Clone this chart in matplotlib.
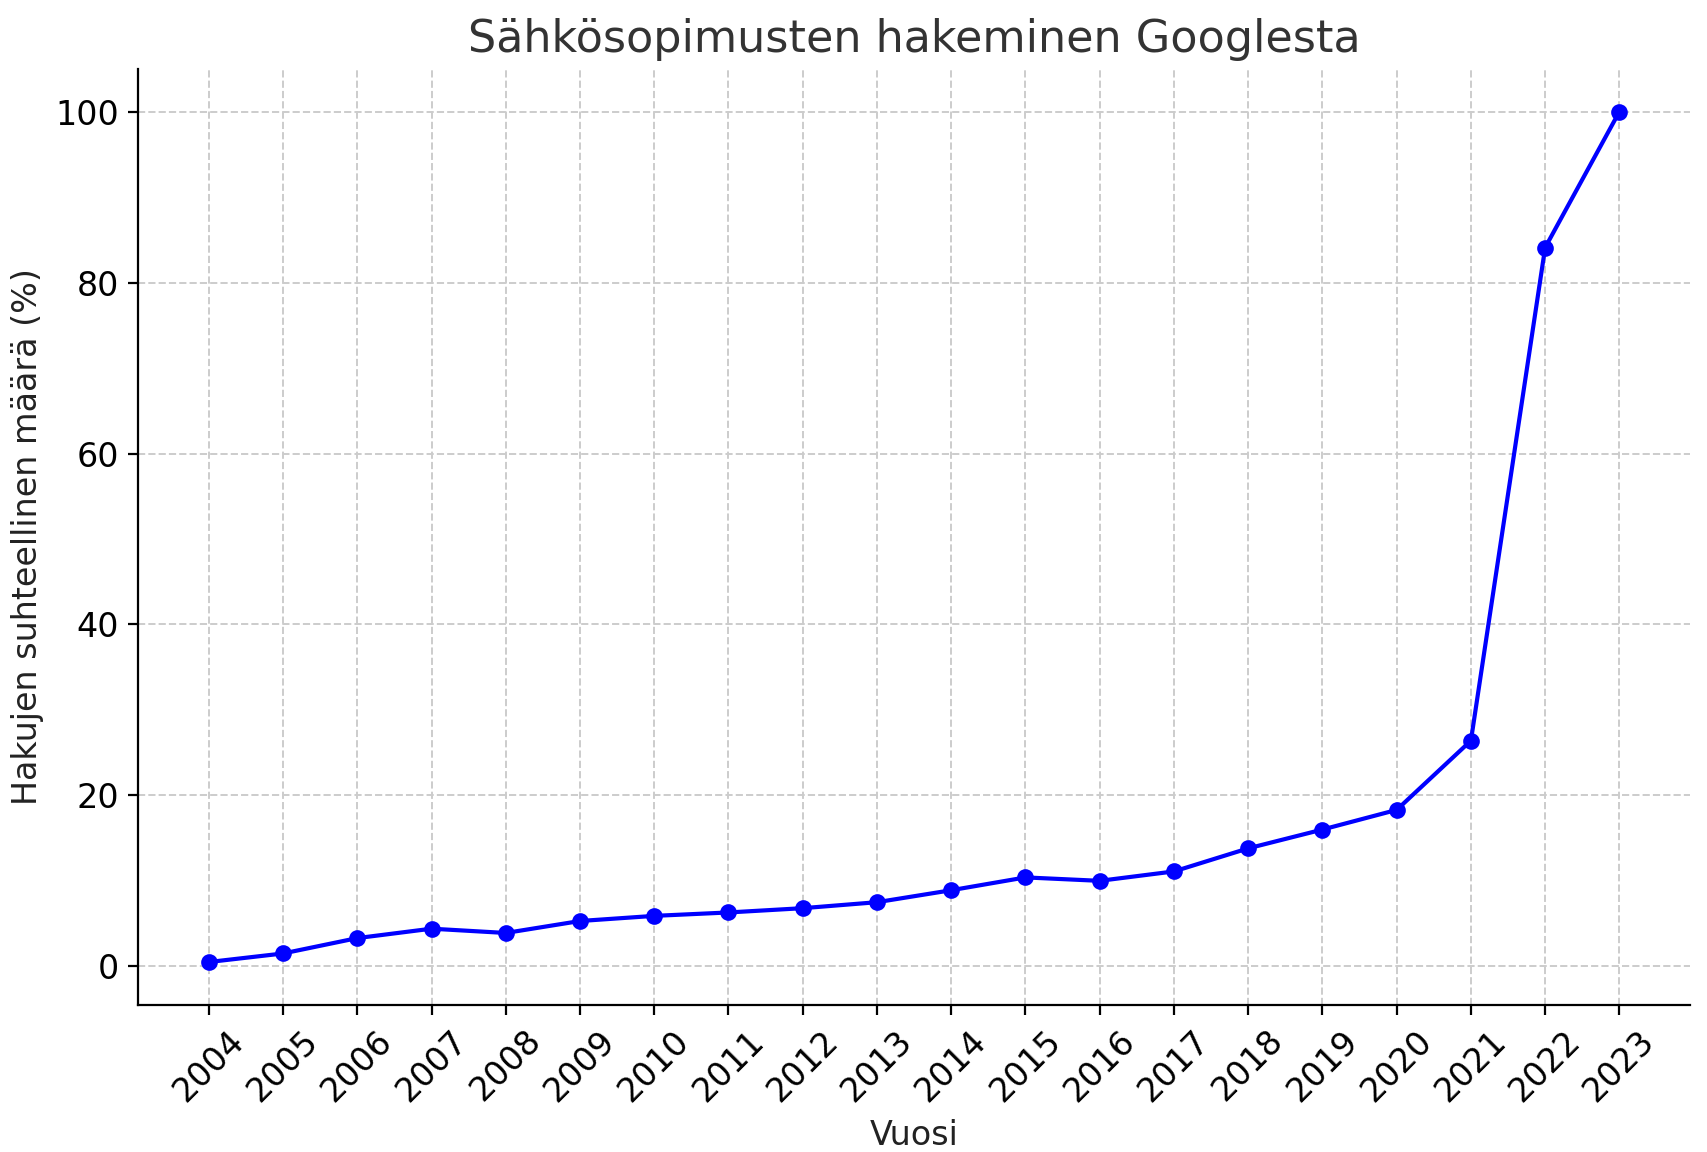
import matplotlib
matplotlib.use("Agg")
import matplotlib.pyplot as plt

years = [str(y) for y in range(2004, 2024)]
values = [0.5, 1.5, 3.3, 4.4, 3.9, 5.3, 5.9, 6.3, 6.8, 7.5, 8.9, 10.4, 10.0, 11.1, 13.8, 16.0, 18.3, 26.4, 84.1, 100]

fig, ax = plt.subplots(figsize=(8.535, 5.76), dpi=200)
x = list(range(len(years)))
ax.plot(x, values, color="blue", marker="o", markersize=5, linewidth=1.5)
ax.set_xticks(x)
ax.set_xticklabels(years, rotation=45)
ax.set_title("Sähkösopimusten hakeminen Googlesta", fontsize=16, color="#333333")
ax.set_xlabel("Vuosi", fontsize=12, color="#222222")
ax.set_ylabel("Hakujen suhteellinen määrä (%)", fontsize=12, color="#222222")
ax.tick_params(labelsize=12)
ax.grid(True, linestyle="--", color="#cccccc", linewidth=0.7)
ax.spines["top"].set_visible(False)
ax.spines["right"].set_visible(False)
fig.subplots_adjust(left=0.081, right=0.99, top=0.94, bottom=0.128)
fig.savefig("out.png", dpi=200)
